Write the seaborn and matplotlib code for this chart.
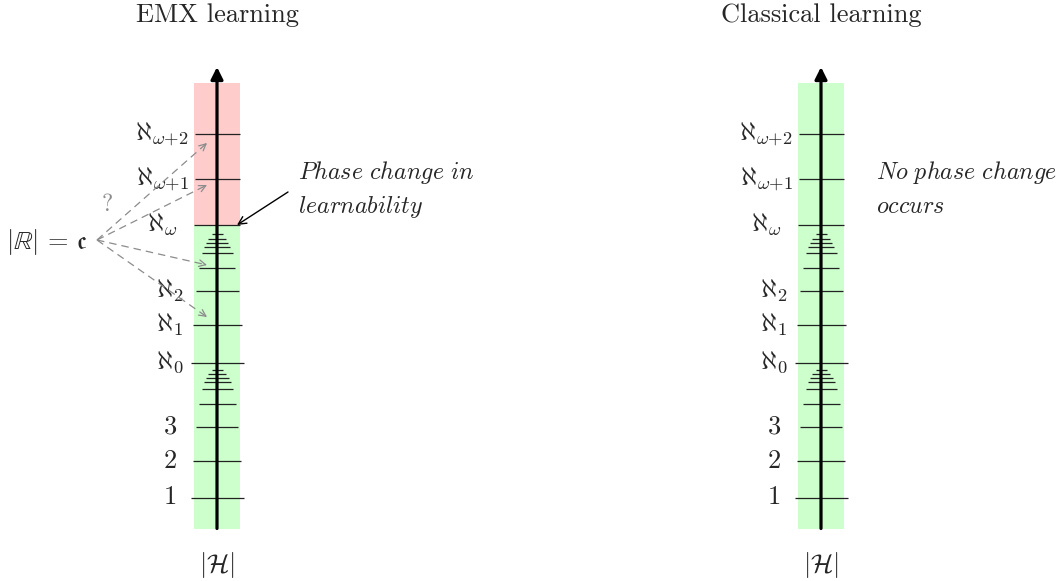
import numpy as np
import matplotlib.pyplot as plt
import seaborn as sns

sns.set_theme(style='white')
plt.rcParams['mathtext.fontset'] = 'cm'
plt.rcParams['font.family'] = ['cmr10', 'DejaVu Serif']
plt.rcParams['axes.unicode_minus'] = False

# the two panels
panel_titles = ['EMX learning', 'Classical learning']
panel_notes = [['Phase change in', 'learnability'], ['No phase change', 'occurs']]
axis_label = r'$|\mathcal{H}|$'

# named cardinals: label, height on the picture scale, half width of the tick
named_labels = [r'$1$', r'$2$', r'$3$', r'$\aleph_0$', r'$\aleph_1$', r'$\aleph_2$',
                r'$\aleph_\omega$', r'$\aleph_{\omega{+}1}$', r'$\aleph_{\omega{+}2}$']
named_y = [497.5, 460.7, 426.7, 362.5, 325.0, 290.7, 224.5, 179.3, 134.0]
named_hw = [26.5, 24.0, 21.0, 26.5, 24.5, 21.5, 23.0, 22.5, 22.5]
omega_labels = [False, False, False, False, False, False, True, True, True]

# unlabelled ticks piling up under aleph_0 and under aleph_omega
pile_low_y = [404.0, 389.0, 381.7, 377.7, 373.7, 370.0]
pile_low_hw = [18.5, 15.5, 13.5, 11.5, 9.0, 5.5]
pile_mid_y = [268.0, 252.7, 246.7, 242.7, 239.0, 234.3]
pile_mid_hw = [18.0, 15.5, 13.0, 11.3, 9.0, 5.5]

# band limits: bottom, phase change, top
band_bottom, band_top = 528.5, 83.0
phase_change_y = [224.5, None]

# dashed guesses for where |R| = c sits
guess_y = [143, 185, 265, 317]

axis_x = [217, 821]
band_hw = 23
FS = 19
FS_NOTE = 17.3
red = '#ffcccc'
green = '#ccffcc'
gray = '#8c8c8c'

fig = plt.figure(figsize=(10.58, 5.81), dpi=100)
ax = fig.add_axes([0, 0, 1, 1])
ax.set_xlim(0, 1058)
ax.set_ylim(581, 0)
ax.axis('off')

for i, x0 in enumerate(axis_x):
    pc = phase_change_y[i]
    if pc is None:
        ax.fill_between([x0 - band_hw, x0 + band_hw], band_bottom, band_top,
                        color=green, lw=0, zorder=1)
    else:
        ax.fill_between([x0 - band_hw, x0 + band_hw], band_bottom, pc,
                        color=green, lw=0, zorder=1)
        ax.fill_between([x0 - band_hw, x0 + band_hw], pc, band_top,
                        color=red, lw=0, zorder=1)

    ys = np.array(named_y + pile_low_y + pile_mid_y)
    hws = np.array(named_hw + pile_low_hw + pile_mid_hw)
    ax.hlines(ys, x0 - hws, x0 + hws, color='#222222', lw=0.9, zorder=2)

    for lab, y, om in zip(named_labels, named_y, omega_labels):
        lx = x0 - 55 if om else x0 - 47
        ax.text(lx, y, lab, fontsize=FS, ha='center', va='center', zorder=4)

    # vertical axis with arrow head
    ax.annotate('', xy=(x0, 67), xytext=(x0, band_bottom),
                arrowprops=dict(arrowstyle='-|>', color='black', lw=2.3,
                                mutation_scale=18, shrinkA=0, shrinkB=0),
                zorder=3)

    ax.text(x0, 15, panel_titles[i], fontsize=FS, ha='center', va='center')
    ax.text(x0, 565, axis_label, fontsize=FS, ha='center', va='center')

    nx = x0 + 81 if i == 0 else x0 + 55
    for k, line in enumerate(panel_notes[i]):
        ax.text(nx, 173 + 34 * k, r'$\mathit{' + line.replace(' ', r'\ ') + '}$',
                fontsize=FS_NOTE, ha='left', va='center')

# arrow to the phase change
ax.annotate('', xy=(237, 225), xytext=(288, 192),
            arrowprops=dict(arrowstyle='->', color='black', lw=1.0,
                            mutation_scale=14, shrinkA=0, shrinkB=0), zorder=5)

# |R| = c with dashed guesses
src = np.array([97.0, 240.0])
ax.text(47, 242, r'$|\mathbb{R}|\,=\,\mathfrak{c}$', fontsize=FS, ha='center', va='center')
ax.text(107, 205, '?', fontsize=FS - 2, ha='center', va='center', color=gray)
for gy in guess_y:
    tip = np.array([207.0, gy])
    d = (tip - src) / np.linalg.norm(tip - src)
    ax.plot([src[0], tip[0] - d[0] * 3], [src[1], tip[1] - d[1] * 3],
            color=gray, lw=0.9, dashes=(6, 4), zorder=5)
    ax.annotate('', xy=tuple(tip), xytext=tuple(tip - d * 2),
                arrowprops=dict(arrowstyle='->', color=gray, lw=0.9,
                                mutation_scale=12, shrinkA=0, shrinkB=0), zorder=5)

fig.savefig('out.png', dpi=100)
